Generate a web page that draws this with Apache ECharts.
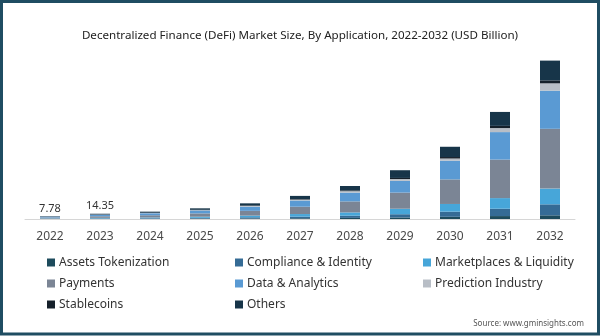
<!DOCTYPE html>
<html>
<head>
<meta charset="utf-8">
<script src="https://cdn.jsdelivr.net/npm/echarts@6/dist/echarts.min.js"></script>
<style>
  html, body { margin: 0; padding: 0; background: #ffffff; }
  #chart { width: 600px; height: 336px; }
</style>
</head>
<body>
<div id="chart"></div>
<script>
// DeFi market size by application, USD billion
const years = ['2022', '2023', '2024', '2025', '2026', '2027', '2028', '2029', '2030', '2031', '2032'];
const assetsTokenization = [0.43, 0.65, 0.8, 1.2, 1.7, 2, 3, 4, 6, 8, 10];
const complianceIdentity = [0.55, 1.0, 1.4, 2, 3, 4.5, 6, 9, 14, 20, 30];
const marketplacesLiquidity = [0.8, 1.5, 2.0, 3, 4.5, 7, 9, 15, 21, 29, 43];
const payments = [2.3, 4.3, 6.0, 9, 13, 20, 30, 44, 67, 105, 163];
const dataAnalytics = [2.1, 3.9, 5.5, 8, 11.5, 17, 24, 32, 51, 75, 104];
const predictionIndustry = [0.3, 0.6, 0.8, 1.1, 1.8, 2.5, 4, 5, 6, 11, 20];
const stablecoins = [0.2, 0.4, 0.6, 0.8, 1.2, 1.5, 2, 3, 4, 6, 8];
const others = [1.1, 2.0, 2.9, 4, 6, 8.5, 12, 21, 28, 38, 54];
// years whose total is printed above the bar
const labelledYears = ['2022', '2023'];

const seriesDefs = [
  { name: 'Assets Tokenization', data: assetsTokenization, color: '#1d4b5c' },
  { name: 'Compliance & Identity', data: complianceIdentity, color: '#356b95' },
  { name: 'Marketplaces & Liquidity', data: marketplacesLiquidity, color: '#47a6d9' },
  { name: 'Payments', data: payments, color: '#7b8595' },
  { name: 'Data & Analytics', data: dataAnalytics, color: '#5a9ad3' },
  { name: 'Prediction Industry', data: predictionIndustry, color: '#b8bec6' },
  { name: 'Stablecoins', data: stablecoins, color: '#15202a' },
  { name: 'Others', data: others, color: '#173549' }
];

const totals = years.map((_, i) =>
  seriesDefs.reduce((s, d) => s + d.data[i], 0)
);

const font = "'Noto Sans', 'Open Sans', sans-serif";

const series = seriesDefs.map((d, k) => {
  const s = {
    name: d.name,
    type: 'bar',
    stack: 'total',
    barWidth: 20,
    data: d.data,
    itemStyle: { color: d.color },
    emphasis: { disabled: true }
  };
  if (k === seriesDefs.length - 1) {
    s.label = {
      show: true,
      position: 'top',
      distance: 2,
      color: '#333333',
      fontSize: 11,
      fontFamily: font,
      formatter: p => labelledYears.includes(years[p.dataIndex])
        ? totals[p.dataIndex].toFixed(2) : ''
    };
  }
  return s;
});

const legendCommon = {
  orient: 'vertical',
  icon: 'rect',
  itemWidth: 8,
  itemHeight: 8,
  itemGap: 8,
  selectedMode: false,
  textStyle: { fontSize: 12, lineHeight: 13, color: '#333333', fontFamily: font, padding: [0, 0, 0, -1] }
};

const chart = echarts.init(document.getElementById('chart'), null, { renderer: 'canvas' });
chart.setOption({
  animation: false,
  backgroundColor: '#ffffff',
  title: {
    text: 'Decentralized Finance (DeFi) Market Size, By Application, 2022-2032 (USD Billion)',
    left: 'center',
    top: 25,
    textStyle: { fontSize: 11.6, fontWeight: 'normal', color: '#222222', fontFamily: font }
  },
  legend: [
    Object.assign({ left: 42, top: 251, data: ['Assets Tokenization', 'Payments', 'Stablecoins'] }, legendCommon),
    Object.assign({ left: 230, top: 251, data: ['Compliance & Identity', 'Data & Analytics', 'Others'] }, legendCommon),
    Object.assign({ left: 418, top: 251, data: ['Marketplaces & Liquidity', 'Prediction Industry'] }, legendCommon)
  ],
  grid: { left: 25, right: 25, top: 54, bottom: 117 },
  xAxis: {
    type: 'category',
    data: years,
    axisTick: { show: false },
    axisLine: { lineStyle: { color: '#d6d6d6', width: 1 } },
    axisLabel: { color: '#4a4a4a', fontSize: 12, margin: 12, fontFamily: font }
  },
  yAxis: {
    type: 'value',
    min: 0,
    max: 450,
    show: false,
    splitLine: { show: false }
  },
  series: series,
  graphic: [
    {
      type: 'text',
      right: 16,
      top: 320,
      style: { text: 'Source: www.gminsights.com', fontSize: 8, fill: '#555555', fontFamily: font }
    },
    {
      type: 'rect',
      shape: { x: 1.5, y: 1.5, width: 597, height: 332.5 },
      style: { fill: 'none', stroke: '#1f4d62', lineWidth: 3 },
      silent: true
    }
  ]
});
</script>
</body>
</html>
